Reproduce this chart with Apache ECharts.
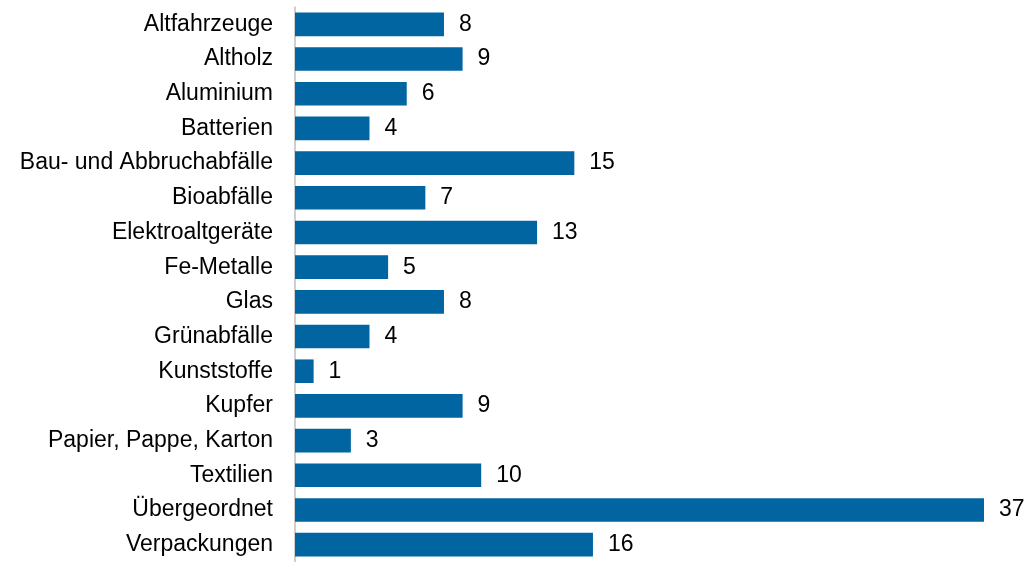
<!DOCTYPE html>
<html>
<head>
<meta charset="utf-8">
<script src="https://cdn.jsdelivr.net/npm/echarts@6/dist/echarts.min.js"></script>
<style>
  html, body { margin: 0; padding: 0; background: #ffffff; }
  #chart { width: 1029px; height: 562px; }
</style>
</head>
<body>
<div id="chart"></div>
<script>
// Waste categories, listed top to bottom
const categories = [
  'Altfahrzeuge', 'Altholz', 'Aluminium', 'Batterien',
  'Bau- und Abbruchabfälle', 'Bioabfälle', 'Elektroaltgeräte', 'Fe-Metalle',
  'Glas', 'Grünabfälle', 'Kunststoffe', 'Kupfer',
  'Papier, Pappe, Karton', 'Textilien', 'Übergeordnet', 'Verpackungen'
];
// Count per category
const counts = [8, 9, 6, 4, 15, 7, 13, 5, 8, 4, 1, 9, 3, 10, 37, 16];

const chart = echarts.init(document.getElementById('chart'), null, { renderer: 'canvas' });

chart.setOption({
  animation: false,
  backgroundColor: '#ffffff',
  textStyle: { fontFamily: 'Liberation Sans, Arial, sans-serif' },
  grid: { left: 295, right: 45, top: 7, bottom: -2, containLabel: false },
  xAxis: {
    type: 'value',
    min: 0,
    max: 37,
    show: false
  },
  yAxis: {
    type: 'category',
    data: categories,
    inverse: true,
    offset: 2,
    axisLine: { show: true, lineStyle: { color: '#bfbfbf', width: 1.5 } },
    axisTick: { show: false },
    axisLabel: {
      color: '#000000',
      fontSize: 23,
      margin: 20,
      fontFamily: 'Liberation Sans, Arial, sans-serif'
    }
  },
  series: [{
    type: 'bar',
    data: counts,
    barCategoryGap: '32%',
    itemStyle: { color: '#0065a1' },
    label: {
      show: true,
      position: 'right',
      distance: 15,
      color: '#000000',
      fontSize: 23,
      fontFamily: 'Liberation Sans, Arial, sans-serif'
    }
  }]
});
</script>
</body>
</html>
